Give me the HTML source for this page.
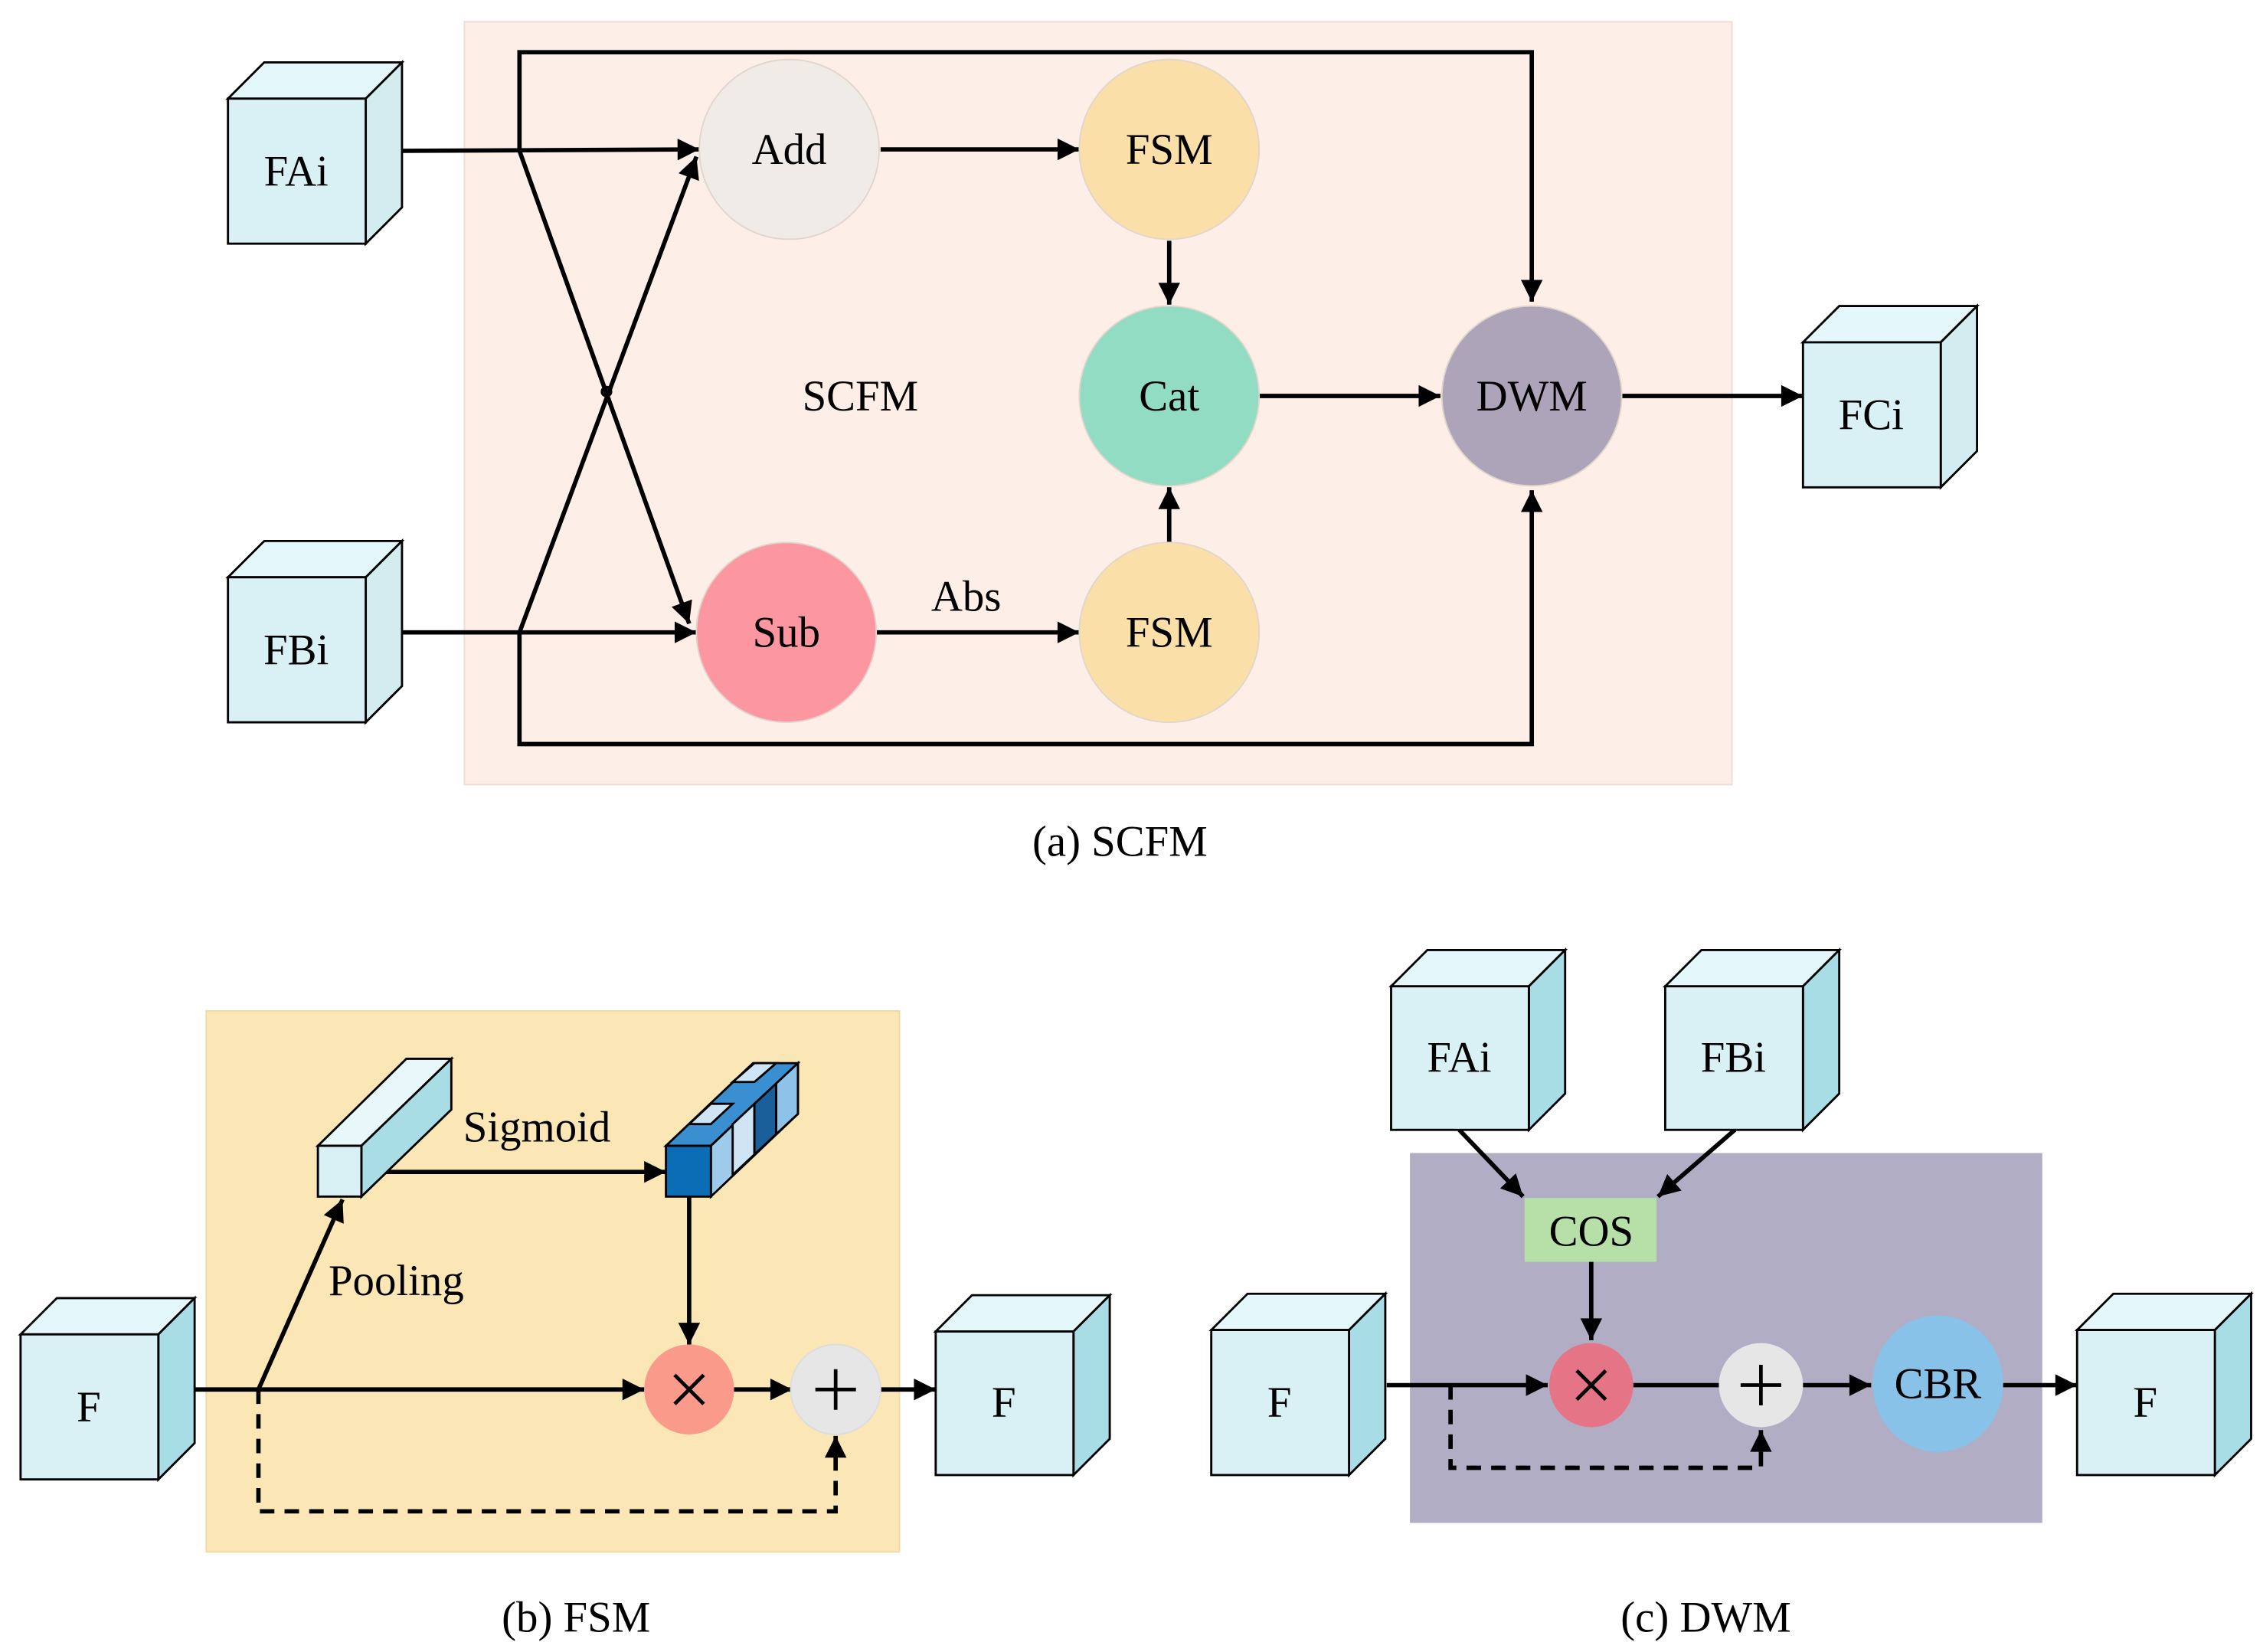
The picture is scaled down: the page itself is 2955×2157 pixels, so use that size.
<!DOCTYPE html>
<html><head><meta charset="utf-8"><style>html,body{margin:0;padding:0;background:#fff}svg{display:block}svg text{font-family:"Liberation Serif",serif}</style></head>
<body>
<svg width="2955" height="2157" viewBox="0 0 1560 1139" xmlns="http://www.w3.org/2000/svg">
<defs>
<marker id="a" viewBox="0 0 10 10" refX="10" refY="5" markerWidth="18" markerHeight="15" orient="auto" markerUnits="userSpaceOnUse"><path d="M0,0 L10,5 L0,10 z" fill="#000"/></marker>
</defs>
<rect width="1560" height="1139" fill="#fff"/>
<!-- SCFM -->
<rect x="320" y="15" width="874" height="526" fill="#fdefe8" stroke="#f0dcd2" stroke-width="1"/>
<g stroke="#000" stroke-width="3" fill="none">
<polyline points="358,104 358,36 1056,36 1056,208" marker-end="url(#a)"/>
<polyline points="358,436 358,513 1056,513 1056,338" marker-end="url(#a)"/>
<line x1="358" y1="104" x2="475" y2="430" marker-end="url(#a)"/>
<line x1="358" y1="436" x2="480" y2="108" marker-end="url(#a)"/>
<line x1="277" y1="104" x2="482" y2="103" marker-end="url(#a)"/>
<line x1="277" y1="436" x2="480" y2="436" marker-end="url(#a)"/>
<line x1="607" y1="103" x2="744" y2="103" marker-end="url(#a)"/>
<line x1="806" y1="166" x2="806" y2="210" marker-end="url(#a)"/>
<line x1="806" y1="374" x2="806" y2="336" marker-end="url(#a)"/>
<line x1="868" y1="273" x2="993" y2="273" marker-end="url(#a)"/>
<line x1="1118" y1="273" x2="1243" y2="273" marker-end="url(#a)"/>
<line x1="604" y1="436" x2="744" y2="436" marker-end="url(#a)"/>
</g>
<circle cx="418" cy="270" r="3" fill="none" stroke="#000" stroke-width="2"/>
<g stroke="#e0d6cc" stroke-width="1">
<circle cx="544" cy="103" r="62" fill="#f0ebe7"/>
<circle cx="806" cy="103" r="62" fill="#fae0a8"/>
<circle cx="806" cy="273" r="62" fill="#92dcc4"/>
<circle cx="1056" cy="273" r="62" fill="#ada4b9"/>
<circle cx="542" cy="436" r="62" fill="#fc96a0"/>
<circle cx="806" cy="436" r="62" fill="#fae0a8"/>
</g>
<g font-size="30" text-anchor="middle" fill="#000">
<text x="544" y="113">Add</text><text x="806" y="113">FSM</text><text x="806" y="283">Cat</text>
<text x="1056" y="283">DWM</text><text x="542" y="446">Sub</text><text x="806" y="446">FSM</text>
<text x="666" y="421">Abs</text><text x="593" y="283">SCFM</text>
<text x="772" y="590">(a) SCFM</text><text x="397" y="1125">(b) FSM</text><text x="1176" y="1125">(c) DWM</text>
</g>
<!-- FSM -->
<rect x="142" y="697" width="478" height="373" fill="#fbe6b6" stroke="#f0d9a8" stroke-width="1"/>
<g stroke="#000" stroke-width="3" fill="none">
<line x1="249" y1="808" x2="459" y2="808" marker-end="url(#a)"/>
<line x1="178" y1="958" x2="236" y2="827" marker-end="url(#a)"/>
<line x1="134" y1="958" x2="444" y2="958" marker-end="url(#a)"/>
<line x1="475" y1="825" x2="475" y2="927" marker-end="url(#a)"/>
<line x1="505" y1="958" x2="546" y2="958" marker-end="url(#a)"/>
<line x1="607" y1="958" x2="645" y2="958" marker-end="url(#a)"/>
<polyline points="178,958 178,1042 576,1042 576,990" stroke-dasharray="10,7" marker-end="url(#a)"/>
</g>
<g stroke="#000" stroke-width="1.5">
<polygon points="219,790 280,730 311,730 249,790" fill="#e8f7fa"/>
<polygon points="249,790 311,730 311,765 249,825" fill="#a8dde6"/>
<rect x="219" y="790" width="30" height="35" fill="#d9f0f4"/>
</g>
<g stroke="#000" stroke-width="1.5">
<polygon points="459,790 519,733 550,733 490,790" fill="#3a8fd0"/>
<polygon points="490,790 550,733 550,768 490,825" fill="#9fcbeb"/>
<polygon points="505,775 520,761 520,796 505,810" fill="#cfe5f5"/>
<polygon points="520,761 535,747 535,782 520,796" fill="#1a5f99"/>
<polygon points="535,747 550,733 550,768 535,782" fill="#8fc2e8"/>
<polygon points="475,775 490,761 505,761 490,775" fill="#cfe5f5"/>
<polygon points="505,746 520,733 535,733 520,746" fill="#cfe5f5"/>
<rect x="459" y="790" width="31" height="35" fill="#0a6db5"/>
</g>
<circle cx="475" cy="958" r="31" fill="#f99a8a"/>
<circle cx="576" cy="958" r="31" fill="#e6e6e6" stroke="#ddd"/>
<g stroke="#000" stroke-width="2.5">
<line x1="465" y1="948" x2="485" y2="968"/><line x1="485" y1="948" x2="465" y2="968"/>
<line x1="562" y1="958" x2="590" y2="958"/><line x1="576" y1="944" x2="576" y2="972"/>
</g>
<g font-size="30" text-anchor="middle"><text x="370" y="787">Sigmoid</text><text x="273" y="893">Pooling</text></g>
<!-- DWM -->
<rect x="972" y="795" width="436" height="255" fill="#b0adc5"/>
<rect x="1051" y="826" width="91" height="44" fill="#b7e0a8"/>
<text x="1097" y="859" font-size="30" text-anchor="middle">COS</text>
<g stroke="#000" stroke-width="3" fill="none">
<line x1="1006" y1="779" x2="1050" y2="825" marker-end="url(#a)"/>
<line x1="1196" y1="779" x2="1143" y2="825" marker-end="url(#a)"/>
<line x1="1097" y1="870" x2="1097" y2="924" marker-end="url(#a)"/>
<line x1="956" y1="955" x2="1067" y2="955" marker-end="url(#a)"/>
<line x1="1126" y1="955" x2="1185" y2="955"/>
<line x1="1243" y1="955" x2="1290" y2="955" marker-end="url(#a)"/>
<line x1="1381" y1="955" x2="1432" y2="955" marker-end="url(#a)"/>
<polyline points="1000,955 1000,1012 1214,1012 1214,986" stroke-dasharray="10,7" marker-end="url(#a)"/>
</g>
<circle cx="1097" cy="955" r="29" fill="#e47486"/>
<circle cx="1214" cy="955" r="29" fill="#e6e6e6"/>
<ellipse cx="1336" cy="954" rx="45" ry="47" fill="#88c2e8"/>
<g stroke="#000" stroke-width="2.5">
<line x1="1087" y1="945" x2="1107" y2="965"/><line x1="1107" y1="945" x2="1087" y2="965"/>
<line x1="1200" y1="955" x2="1228" y2="955"/><line x1="1214" y1="941" x2="1214" y2="969"/>
</g>
<text x="1336" y="964" font-size="30" text-anchor="middle">CBR</text>
<g stroke="#000" stroke-width="1.5">
<polygon points="157,68 182,43 277,43 252,68" fill="#e4f8fb"/><polygon points="252,68 277,43 277,143 252,168" fill="#d2ecef"/><rect x="157" y="68" width="95" height="100" fill="#d9f0f4"/>
<polygon points="157,398 182,373 277,373 252,398" fill="#e4f8fb"/><polygon points="252,398 277,373 277,473 252,498" fill="#d2ecef"/><rect x="157" y="398" width="95" height="100" fill="#d9f0f4"/>
<polygon points="1243,236 1268,211 1363,211 1338,236" fill="#e4f8fb"/><polygon points="1338,236 1363,211 1363,311 1338,336" fill="#d2ecef"/><rect x="1243" y="236" width="95" height="100" fill="#d9f0f4"/>
<polygon points="14,920 39,895 134,895 109,920" fill="#e4f8fb"/><polygon points="109,920 134,895 134,995 109,1020" fill="#a8dde6"/><rect x="14" y="920" width="95" height="100" fill="#d9f0f4"/>
<polygon points="645,918 670,893 765,893 740,918" fill="#e4f8fb"/><polygon points="740,918 765,893 765,992 740,1017" fill="#a8dde6"/><rect x="645" y="918" width="95" height="99" fill="#d9f0f4"/>
<polygon points="959,680 984,655 1079,655 1054,680" fill="#e4f8fb"/><polygon points="1054,680 1079,655 1079,754 1054,779" fill="#a8dde6"/><rect x="959" y="680" width="95" height="99" fill="#d9f0f4"/>
<polygon points="1148,680 1173,655 1268,655 1243,680" fill="#e4f8fb"/><polygon points="1243,680 1268,655 1268,754 1243,779" fill="#a8dde6"/><rect x="1148" y="680" width="95" height="99" fill="#d9f0f4"/>
<polygon points="835,917 860,892 955,892 930,917" fill="#e4f8fb"/><polygon points="930,917 955,892 955,992 930,1017" fill="#a8dde6"/><rect x="835" y="917" width="95" height="100" fill="#d9f0f4"/>
<polygon points="1432,917 1457,892 1552,892 1527,917" fill="#e4f8fb"/><polygon points="1527,917 1552,892 1552,992 1527,1017" fill="#a8dde6"/><rect x="1432" y="917" width="95" height="100" fill="#d9f0f4"/>
</g>
<g font-size="30" text-anchor="middle">
<text x="204" y="128">FAi</text><text x="204" y="458">FBi</text><text x="1290" y="296">FCi</text>
<text x="61" y="980">F</text><text x="692" y="977">F</text>
<text x="1006" y="739">FAi</text><text x="1195" y="739">FBi</text>
<text x="882" y="977">F</text><text x="1479" y="977">F</text>
</g>
</svg>
</body></html>
